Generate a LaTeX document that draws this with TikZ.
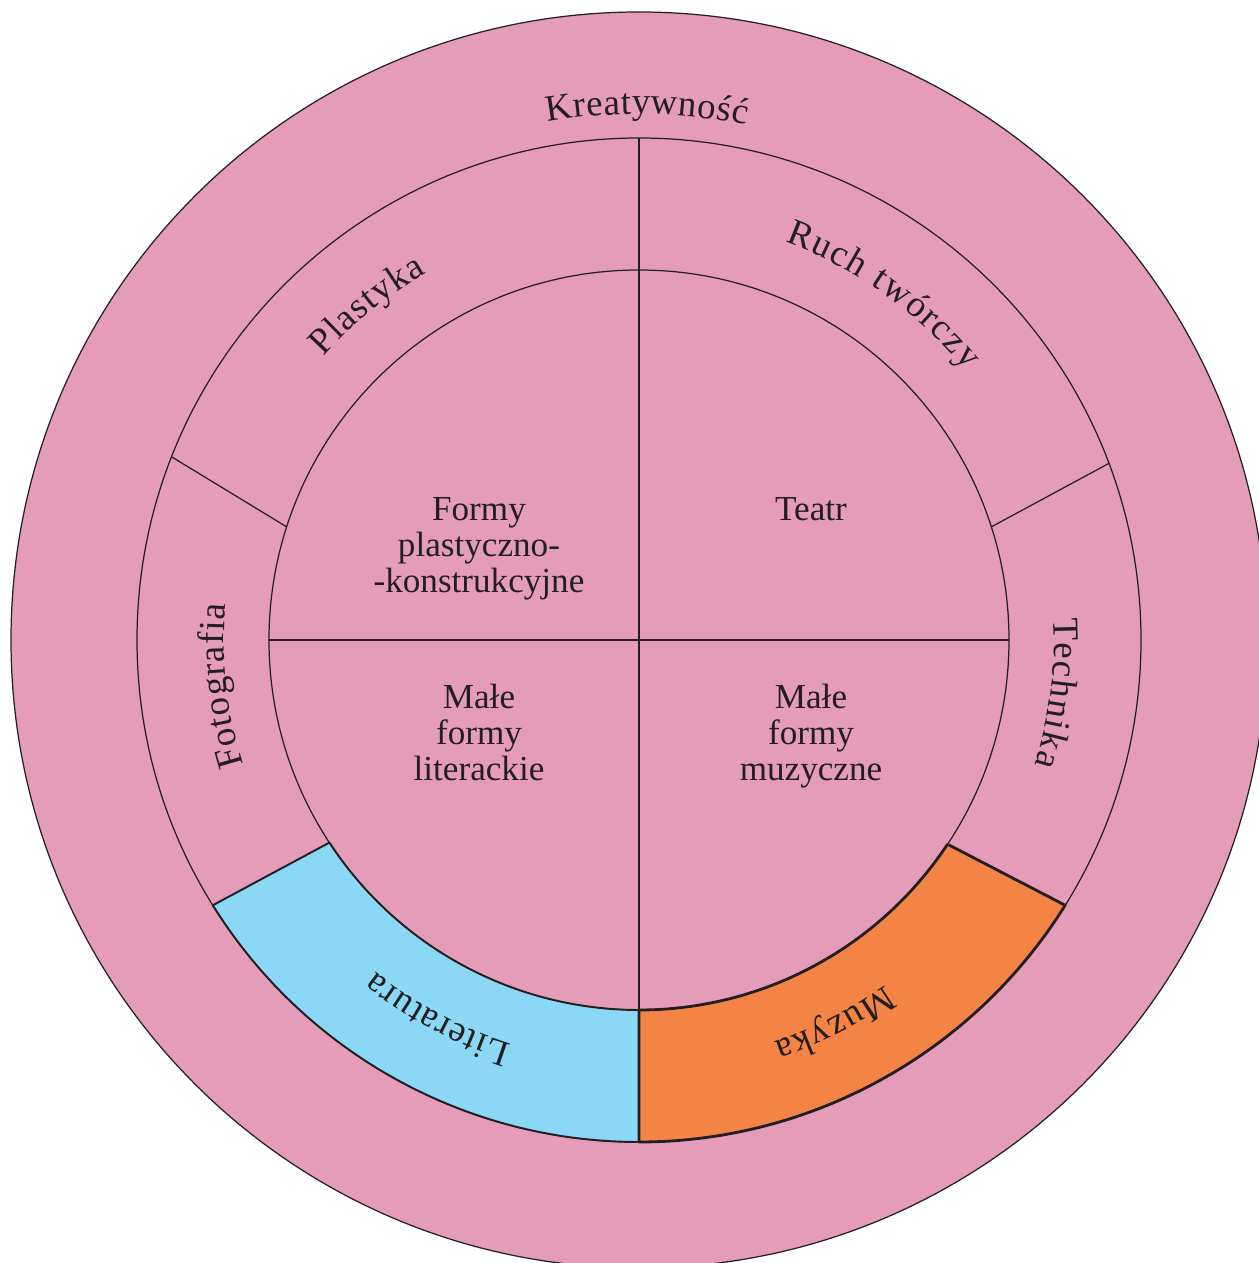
\documentclass[tikz,border=0pt]{standalone}
\usepackage{fontspec}
\setmainfont{Liberation Serif}
\usetikzlibrary{math,decorations.text}

\definecolor{ringpink}{RGB}{228,156,185}
\definecolor{litblue}{RGB}{138,216,246}
\definecolor{musorange}{RGB}{244,131,70}
\definecolor{ink}{RGB}{35,31,32}

\newcommand{\labelfont}{\fontsize{20}{20.5}\selectfont}
\newcommand{\ringfont}{\fontsize{21}{24}\selectfont}

\begin{document}
\begin{tikzpicture}[color=ink, line width=0.7pt]
\tikzstyle{field}=[text=ink, align=center, anchor=north, inner sep=0pt, font=\labelfont]
\tikzstyle{ring label}=[decorate, decoration={text along path, text align={fit to path}, text color=ink}]
\tikzstyle{picked}=[draw=ink, line width=1.6pt, line join=round]

% Radii of the rings
\tikzmath{
    \rin = 7.4;
    \rmid = 10.04;
    \rout = 12.56;
    \rtxt = 8.48;
    \rside = 8.3;
    \rtop = 10.52;
}

\useasboundingbox (-12.78,-12.46) rectangle (12.38,12.80);
\fill[white] (-12.78,-12.46) rectangle (12.38,12.80);

% Draw the three rings
\draw[fill=ringpink] (0,0) circle[radius=\rout];
\draw (0,0) circle[radius=\rmid];
\draw (0,0) circle[radius=\rin];

% Draw the dividers
\draw (90:\rmid) -- (270:\rmid);
\draw (180:\rin) -- (0:\rin);
\draw (162.2:\rin) -- (158.6:\rmid);
\draw (17.8:\rin) -- (20.6:\rmid);

% Draw the two coloured fields
\draw[picked, fill=litblue, line width=1.1pt] (270:\rin) arc[start angle=270, end angle=213.2, radius=\rin]
    -- (211.9:\rmid) arc[start angle=211.9, end angle=270, radius=\rmid] -- cycle;
\draw[picked, fill=musorange] (270:\rin) arc[start angle=270, end angle=326.5, radius=\rin]
    -- (328.1:\rmid) arc[start angle=328.1, end angle=270, radius=\rmid] -- cycle;

% Draw the inner fields
\node[field] (forms) at (-3.2, 2.86) {Formy\\plastyczno-\\-konstrukcyjne};
\node[field] (theatre) at (3.44, 2.86) {Teatr};
\node[field] (poetry) at (-3.2, -0.86) {Małe\\formy\\literackie};
\node[field] (songs) at (3.44, -0.86) {Małe\\formy\\muzyczne};

% Draw the ring labels
\path[ring label, decoration={text={|\ringfont|Kreatywność}}] (100:\rtop) arc[start angle=100, end angle=78.2, radius=\rtop];
\path[ring label, decoration={text={|\ringfont|Plastyka}}] (138:\rtxt) arc[start angle=138, end angle=120, radius=\rtxt];
\path[ring label, decoration={text={|\ringfont|Ruch twórczy}}] (69.8:\rtxt) arc[start angle=69.8, end angle=39.5, radius=\rtxt];
\path[ring label, decoration={text={|\ringfont|Fotografia}}] (197.5:\rside) arc[start angle=197.5, end angle=175, radius=\rside];
\path[ring label, decoration={text={|\ringfont|Technika}}] (3:\rside) arc[start angle=3, end angle=-17.5, radius=\rside];
\path[ring label, decoration={text={|\ringfont|Literatura}}] (252.5:\rtxt) arc[start angle=252.5, end angle=231.5, radius=\rtxt];
\path[ring label, decoration={text={|\ringfont|Muzyka}}] (305.5:\rtxt) arc[start angle=305.5, end angle=288.5, radius=\rtxt];

\end{tikzpicture}
\end{document}
